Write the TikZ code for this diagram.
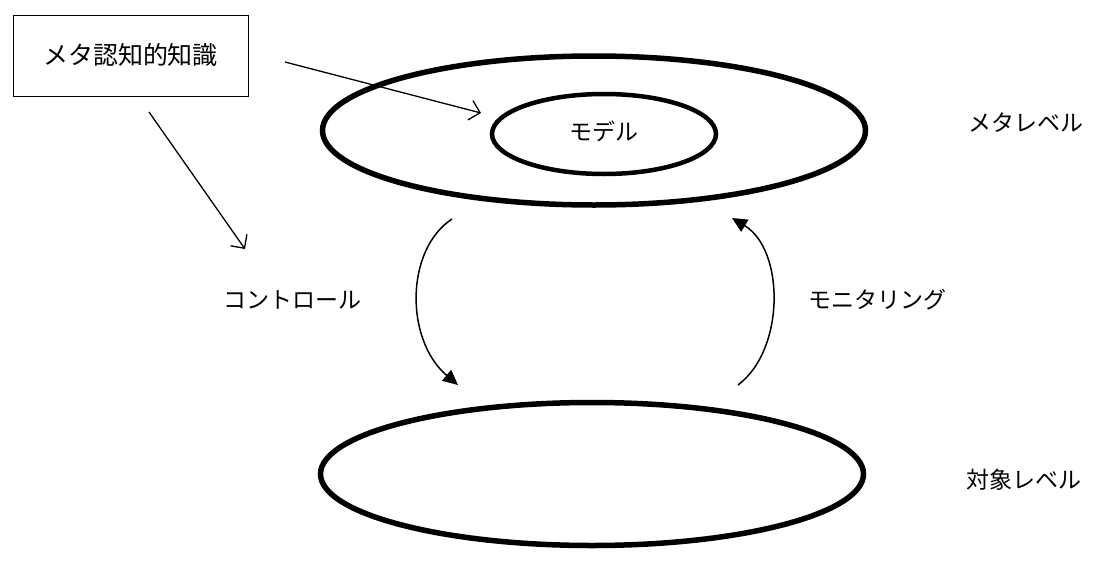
\documentclass[tikz,border=0pt]{standalone}
\usepackage{fontspec}
\setmainfont{Liberation Serif}
\newfontfamily\jp{Noto Sans CJK JP}
\usetikzlibrary{shapes.geometric,arrows.meta}
\begin{document}
\begin{tikzpicture}[x=1pt,y=-1pt,
  lvl/.style={draw,ellipse,line width=5.5pt,inner sep=0pt},
  lbl/.style={font=\jp\fontsize{23}{26}\selectfont,inner sep=0pt},
  thin/.style={line width=1.3pt,-{Straight Barb[length=10pt,width=20pt,line width=1.3pt]}},
  curv/.style={line width=1.5pt,-{Triangle[length=15pt,width=14pt]}}]
\useasboundingbox (0,0) rectangle (1096,565);
\node[draw,line width=0.8pt,minimum width=235pt,minimum height=81pt,font=\jp\fontsize{25}{28}\selectfont] (box) at (130.5,55.5) {メタ認知的知識};
\node[lvl,minimum width=543pt,minimum height=149pt] (meta) at (594,130.5) {};
\node[lvl,line width=4.5pt,minimum width=224pt,minimum height=80pt] (model) at (604,134) {};
\node[lbl] (modeltxt) at (604,131) {モデル};
\node[lvl,minimum width=543pt,minimum height=143pt] (obj) at (592,474) {};
\node[lbl] (metalbl) at (1026,123) {メタレベル};
\node[lbl] (objlbl) at (1024,480) {対象レベル};
\node[lbl] (ctrl) at (292,300) {コントロール};
\node[lbl] (mon) at (877,300) {モニタリング};
\coordinate (a1s) at (285,62);
\coordinate (a1e) at (481,113);
\coordinate (a2s) at (149,112);
\coordinate (a2e) at (245,249);
\coordinate (cs) at (452,219);
\coordinate (ce) at (458,385);
\coordinate (ms) at (738,385);
\coordinate (me) at (732,218);
\draw[thin] (a1s) -- (a1e);
\draw[thin] (a2s) -- (a2e);
\draw[curv] (cs) .. controls (405,250) and (405,340) .. (ce);
\draw[curv] (ms) .. controls (785,350) and (785,250) .. (me);
\end{tikzpicture}
\end{document}
